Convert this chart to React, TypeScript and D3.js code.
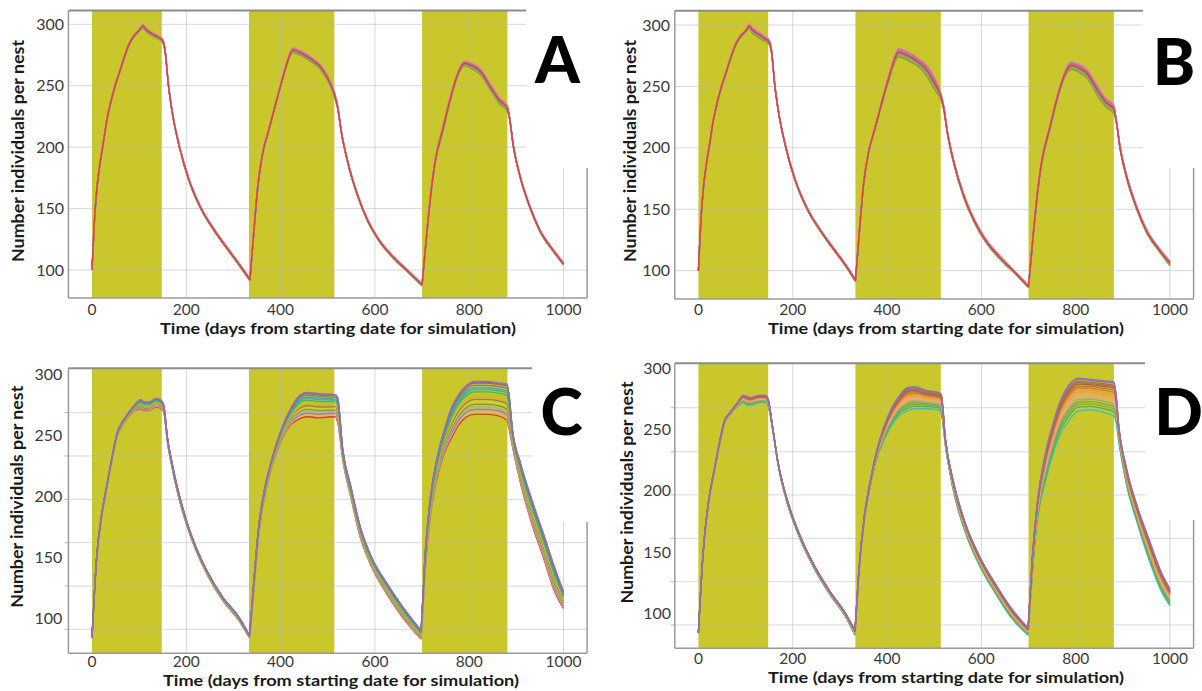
import React from "react";
import * as d3 from "d3";

// ---------- data ----------
const xTicks = [0, 200, 400, 600, 800, 1000];
const yTickLabels = [100, 150, 200, 250, 300];
const seasons = [[0, 148], [333, 514], [700, 881]];
const gridC = [91, 126.4, 161.9, 197.4, 232.9, 268.3];
const gridD = [90.5, 125.8, 161.2, 196.6, 231.9, 267.8];

// [day, lower envelope, upper envelope]
const envA = [
  [0, 100, 100], [5, 138, 140], [10, 164, 166], [17, 186, 188], [25, 205, 207], [31, 220, 222],
  [40, 236, 238], [49, 249, 251], [60, 262, 264], [70, 274, 276], [80, 284, 286], [90, 290, 292],
  [100, 294, 296], [108, 297, 300], [115, 294, 297], [122, 292, 295], [130, 290, 293], [140, 288, 291],
  [150, 285, 288], [155, 277, 280], [162, 250, 252], [170, 228, 230], [185, 200, 202], [205, 173, 175],
  [230, 150, 152], [260, 131, 133], [290, 115, 117], [313, 103, 105], [335, 91, 93],
  [345, 138, 141], [352, 168, 171], [362, 194, 196], [375, 213, 215], [390, 235, 237], [405, 256, 258],
  [418, 272, 275], [426, 277, 281], [440, 275, 279], [455, 272, 276], [470, 268, 272], [485, 263, 267],
  [500, 254, 258], [515, 240, 244], [521, 231, 234], [529, 211, 213], [543, 186, 188], [564, 159, 161],
  [585, 139, 141], [611, 122, 124], [640, 109, 111], [670, 98, 100], [700, 87, 89],
  [710, 128, 131], [717, 155, 158], [727, 185, 188], [745, 214, 218], [759, 236, 240], [773, 255, 258],
  [786, 265, 269], [792, 266, 270], [800, 265, 269], [809, 263, 268], [826, 258, 263], [844, 247, 252],
  [865, 235, 240], [881, 229, 234], [885, 224, 226], [894, 199, 201], [908, 175, 177], [929, 150, 152],
  [950, 131, 133], [978, 115, 117], [1000, 104, 106],
];

const envB = [
  [0, 100, 100], [5, 138, 140], [10, 164, 166], [17, 186, 188], [25, 205, 207], [31, 220, 222],
  [40, 236, 238], [49, 249, 251], [60, 262, 264], [70, 274, 276], [80, 284, 286], [90, 290, 292],
  [100, 294, 296], [108, 297, 301], [115, 293, 298], [122, 291, 296], [130, 289, 294], [140, 287, 291],
  [150, 284, 288], [155, 277, 280], [162, 250, 252], [170, 228, 230], [185, 200, 202], [205, 173, 175],
  [230, 150, 152], [260, 131, 133], [290, 115, 117], [313, 103, 105], [333, 91, 93],
  [343, 138, 141], [350, 168, 171], [360, 194, 196], [373, 213, 215], [388, 234, 237], [403, 254, 258],
  [416, 269, 275], [424, 274, 281], [440, 272, 279], [455, 269, 276], [470, 265, 272], [485, 258, 267],
  [500, 248, 258], [514, 239, 245], [520, 231, 235], [528, 211, 214], [542, 186, 189], [563, 159, 162],
  [585, 139, 142], [611, 122, 125], [640, 109, 112], [670, 98, 100], [700, 86, 88],
  [710, 128, 131], [717, 155, 158], [727, 185, 188], [745, 214, 218], [759, 236, 240], [773, 254, 258],
  [786, 263, 269], [792, 264, 270], [800, 263, 269], [809, 261, 268], [826, 256, 263], [844, 244, 252],
  [865, 233, 240], [881, 228, 235], [885, 223, 226], [894, 199, 202], [908, 175, 178], [929, 150, 153],
  [950, 131, 134], [978, 115, 118], [1000, 104, 108],
];

const envC = [
  [0, 84, 84], [10, 149, 151], [20, 182, 184], [31, 206, 208], [43, 231, 233], [55, 251, 254],
  [60, 255, 258], [75, 264, 267], [91, 270, 275], [103, 271, 279], [112, 270, 277], [120, 270, 277],
  [136, 273, 280], [145, 272, 279], [152, 269, 275], [160, 244, 248], [170, 223, 227], [180, 205, 209],
  [190, 190, 194], [202, 175, 178], [221, 155, 158], [245, 135, 138], [278, 114, 117], [310, 99, 102],
  [334, 84, 86],
  [342, 118, 125], [354, 170, 177], [366, 199, 206], [379, 221, 227], [391, 235, 243], [407, 250, 260],
  [423, 259, 273], [439, 263, 282], [455, 265, 285], [480, 264, 284], [516, 265, 283], [521, 260, 281],
  [532, 229, 238], [549, 199, 208], [569, 166, 175], [593, 142, 150], [625, 120, 129], [658, 101, 110],
  [698, 83, 90], [706, 136, 150], [718, 185, 200], [731, 213, 230], [747, 235, 254], [763, 248, 273],
  [779, 259, 284], [795, 265, 291], [811, 267, 294], [836, 267, 294], [860, 266, 293], [880, 262, 292],
  [884, 256, 285], [892, 240, 254], [909, 210, 227], [933, 177, 197], [957, 150, 170], [981, 122, 142],
  [1000, 108, 122],
];

const envD = [
  [0, 84, 84], [10, 148, 150], [22, 191, 193], [34, 216, 218], [46, 240, 242], [55, 255, 257],
  [67, 262, 264], [83, 269, 272], [95, 272, 278], [103, 270, 277], [112, 270, 276], [132, 272, 278],
  [142, 272, 278], [148, 269, 275], [157, 251, 253], [169, 221, 223], [189, 189, 192], [214, 162, 165],
  [246, 136, 139], [279, 115, 118], [312, 97, 100], [332, 82, 86], [340, 130, 134], [352, 176, 180],
  [365, 205, 209], [377, 225, 231], [393, 241, 252], [409, 253, 267], [425, 261, 277], [442, 265, 284],
  [458, 267, 285], [483, 267, 282], [511, 266, 280], [515, 263, 279], [524, 236, 242], [540, 201, 209],
  [564, 168, 176], [597, 138, 146], [630, 116, 124], [662, 97, 105], [699, 82, 88], [708, 132, 146],
  [719, 176, 192], [736, 208, 231], [752, 230, 255], [768, 247, 274], [785, 257, 286], [805, 265, 292],
  [834, 266, 291], [858, 264, 290], [881, 261, 289], [886, 255, 278], [891, 241, 255], [907, 206, 220],
  [931, 173, 187], [956, 143, 160], [980, 119, 135], [1000, 106, 120],
];

// series colours and their rank between the envelopes (0 = lowest, 1 = highest)
const colorsAB = ["#4daf4a", "#a3a53a", "#f08a2c", "#3ab0a0", "#5a8fd8", "#808080", "#f07060", "#9c6fc0", "#e07ab0", "#e0403a"];
const rankAB = [0.0, 0.12, 0.25, 0.38, 0.5, 0.62, 0.72, 0.86, 1.0, 0.55];

const colorsC = ["#e03a2f", "#f5a38b", "#6a8fd0", "#f28e8e", "#4caf50", "#e8c040", "#8a8a3c", "#f0a030", "#b4c432", "#45b649", "#2db5d6", "#39a8a0", "#7f7f7f", "#e0483a", "#5b7fc6", "#9a6fb0"];
const rankC = [0.0, 0.08, 0.15, 0.22, 0.3, 0.38, 0.45, 0.52, 0.6, 0.68, 0.75, 0.8, 0.88, 0.95, 0.97, 1.0];

const colorsD = ["#2ec4c4", "#3cb371", "#8fa83a", "#6bb140", "#a0a0a0", "#f5a38b", "#e8b040", "#f28e8e", "#f0a030", "#e9762b", "#8a8a3c", "#e0403a", "#7f7f7f", "#e05a30", "#5b7fc6", "#9a6fb0"];
const rankD = [0.0, 0.12, 0.2, 0.27, 0.35, 0.45, 0.52, 0.58, 0.64, 0.7, 0.76, 0.82, 0.86, 0.9, 0.96, 1.0];

// ---------- layout ----------
const panels = [
  { key: "A", env: envA, colors: colorsAB, ranks: rankAB, x0: 92, x1000: 563.5, y100: 270, y300: 24.3,
    top: 10.5, bottom: 298, grid: yTickLabels, ticksTight: false, boxX: 526, boxY0: 0, boxY1: 168,
    letterX: 557.5, letterY: 83, xTickY: 315, xTitleX: 338, xTitleY: 334, yTitleX: 18, yTitleY: 151, yLabelRight: 64 },
  { key: "B", env: envB, colors: colorsAB, ranks: rankAB, x0: 698.4, x1000: 1170, y100: 270.7, y300: 25,
    top: 10.7, bottom: 299, grid: yTickLabels, ticksTight: false, boxX: 1143, boxY0: 0, boxY1: 168,
    letterX: 1174, letterY: 85, xTickY: 315, xTitleX: 946, xTitleY: 334, yTitleX: 630, yTitleY: 151, yLabelRight: 670 },
  { key: "C", env: envC, colors: colorsC, ranks: rankC, x0: 92, x1000: 563.5, y100: 618.3, y300: 374,
    top: 368.3, bottom: 653.3, grid: gridC, ticksTight: true, boxX: 532, boxY0: 340, boxY1: 522,
    letterX: 561.7, letterY: 435, xTickY: 667, xTitleX: 341, xTitleY: 686, yTitleX: 17.3, yTitleY: 496.7, yLabelRight: 62.3 },
  { key: "D", env: envD, colors: colorsD, ranks: rankD, x0: 698.4, x1000: 1170, y100: 613.3, y300: 368.3,
    top: 363.3, bottom: 648.3, grid: gridD, ticksTight: true, boxX: 1145, boxY0: 340, boxY1: 520,
    letterX: 1178.7, letterY: 435, xTickY: 664, xTitleX: 946, xTitleY: 683, yTitleX: 627.3, yTitleY: 492.5, yLabelRight: 671 },
];

const BAND = "#c9c72b";
const FONT = "Lato, 'Open Sans', sans-serif";

// split a series at its local minima so the season starts stay sharp
function splitAtMinima(pts: [number, number][]) {
  const segs: [number, number][][] = [];
  let cur: [number, number][] = [];
  pts.forEach((p, i) => {
    cur.push(p);
    const prev = pts[i - 1];
    const next = pts[i + 1];
    if (prev && next && p[1] < prev[1] && p[1] < next[1]) {
      segs.push(cur);
      cur = [p];
    }
  });
  segs.push(cur);
  return segs;
}

function Panel({ p }: { p: any }) {
  const x = d3.scaleLinear().domain([0, 1000]).range([p.x0, p.x1000]);
  const y = d3.scaleLinear().domain([100, 300]).range([p.y100, p.y300]);
  const left = x(-50);
  const right = x(1050);
  const line = d3
    .line<[number, number]>()
    .x((d) => x(d[0]))
    .y((d) => y(d[1]))
    .curve(d3.curveMonotoneX);

  const series = p.colors.map((c: string, i: number) => {
    const f = p.ranks[i];
    const pts = p.env.map((r: number[]) => [r[0], r[1] + f * (r[2] - r[1])] as [number, number]);
    const d = splitAtMinima(pts).map((s) => line(s) || "").join("");
    return { color: c, d };
  });

  return (
    <g>
      {/* seasons */}
      {seasons.map((s, i) => (
        <rect key={i} x={x(s[0])} y={p.top} width={x(s[1]) - x(s[0])} height={p.bottom - p.top} fill={BAND} />
      ))}
      {/* grid */}
      {p.grid.map((g: number, i: number) => (
        <g key={"h" + i}>
          <line x1={left} x2={right} y1={y(g)} y2={y(g)} stroke="#b8b8b8" strokeOpacity={0.55} strokeWidth={1} />
          {p.ticksTight && (
            <line x1={left - 4} x2={left} y1={y(g)} y2={y(g)} stroke="#b8b8b8" strokeWidth={1} />
          )}
        </g>
      ))}
      {xTicks.slice(1).map((t) => (
        <line key={"v" + t} x1={x(t)} x2={x(t)} y1={p.top} y2={p.bottom} stroke="#b8b8b8" strokeOpacity={0.55} strokeWidth={1} />
      ))}
      {/* frame */}
      <line x1={left} x2={right} y1={p.top} y2={p.top} stroke="#8c8c8c" strokeWidth={2} />
      <line x1={left} x2={left} y1={p.top} y2={p.bottom} stroke="#9a9a9a" strokeWidth={1.5} />
      <line x1={left} x2={right} y1={p.bottom} y2={p.bottom} stroke="#9a9a9a" strokeWidth={1.5} />
      <line x1={right} x2={right} y1={p.top} y2={p.bottom} stroke="#9a9a9a" strokeWidth={1.5} />
      {/* white box holding the panel letter */}
      <rect x={p.boxX} y={p.boxY0} width={1202 - p.boxX} height={p.boxY1 - p.boxY0} fill="#ffffff" />
      {/* series */}
      {series.map((s: any, i: number) => (
        <path key={i} d={s.d} fill="none" stroke={s.color} strokeWidth={1.3} strokeLinejoin="round" />
      ))}
      <text x={p.letterX} y={p.letterY} textAnchor="middle" fontFamily={FONT} fontWeight={900} fontSize={64} fill="#000">
        {p.key}
      </text>
      {/* y tick labels */}
      {yTickLabels.map((t) => (
        <text key={"yl" + t} x={p.yLabelRight} y={y(t)} dy="0.35em" textAnchor="end" fontFamily={FONT} fontSize={16} fill="#3a3a3a">
          {t}
        </text>
      ))}
      {/* x tick labels */}
      {xTicks.map((t) => (
        <text key={"xl" + t} x={x(t)} y={p.xTickY} textAnchor="middle" fontFamily={FONT} fontSize={15.5} fill="#3a3a3a">
          {t}
        </text>
      ))}
      <text x={p.xTitleX} y={p.xTitleY} textAnchor="middle" fontFamily={FONT} fontWeight={700} fontSize={15.5} fill="#1a1a1a"
        textLength={356} lengthAdjust="spacingAndGlyphs">
        Time (days from starting date for simulation)
      </text>
      <text transform={`translate(${p.yTitleX},${p.yTitleY}) rotate(-90)`} textAnchor="middle" dy="0.35em" fontFamily={FONT}
        fontWeight={700} fontSize={17} fill="#1a1a1a" textLength={222} lengthAdjust="spacingAndGlyphs">
        Number individuals per nest
      </text>
    </g>
  );
}

export default function App() {
  return (
    <svg width={1202} height={691} style={{ position: "absolute", left: 0, top: 0, background: "#fff" }}>
      <rect x={0} y={0} width={1202} height={691} fill="#fff" />
      {panels.map((p) => (
        <Panel key={p.key} p={p} />
      ))}
    </svg>
  );
}
